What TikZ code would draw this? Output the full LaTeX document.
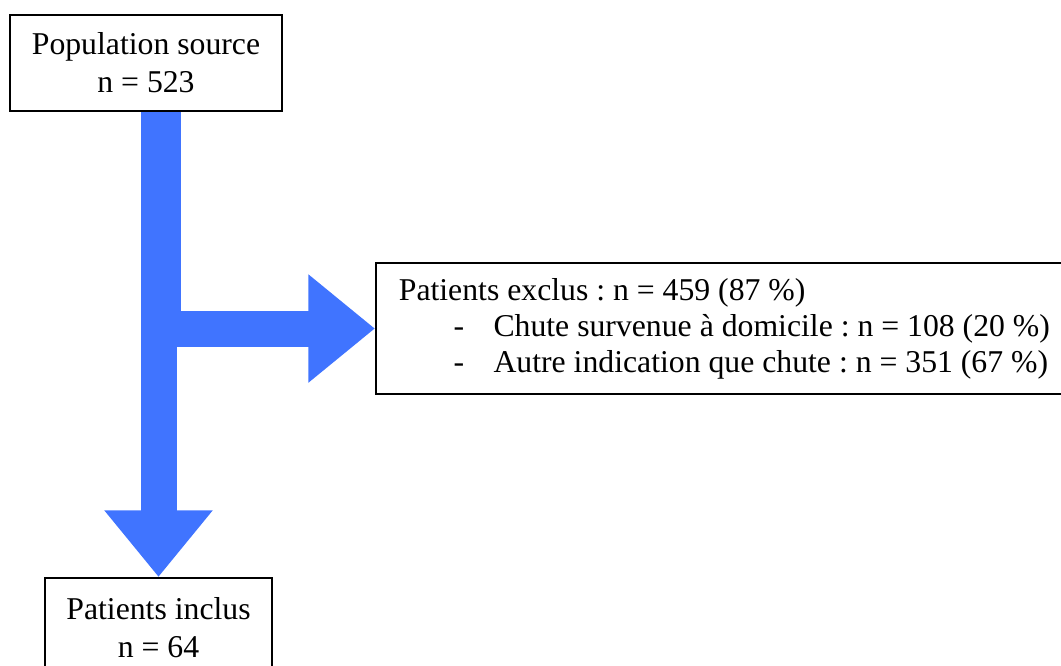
\documentclass[tikz,border=0pt]{standalone}
\usepackage{fontspec}
\setmainfont{Liberation Serif}
\usepackage{xcolor}
\usetikzlibrary{arrows.meta,positioning,calc,backgrounds}
\definecolor{flowblue}{RGB}{64,116,255}
\frenchspacing

\begin{document}
\begin{tikzpicture}[x=0.75pt,y=-0.75pt,
  font=\fontsize{23.8}{28.5}\selectfont,
  box/.style={draw=black,line width=1.8pt,fill=white,align=center,inner sep=0pt},
  flow/.style={draw=flowblue,line width=27pt,-{Triangle[width=78pt,length=50pt]}}]
\useasboundingbox (0,0) rectangle (1061,665);
% --- boxes ---
\node[box,minimum width=204pt,minimum height=72pt] (src) at (146,63) {Population source\\n = 523};
\node[box,minimum width=170pt,minimum height=73.5pt,anchor=north] (incl) at (158.5,577) {Patients inclus\\n = 64};
\node[box,anchor=north west,align=left,inner xsep=17pt,text width=620pt,minimum height=98pt,
  font=\fontsize{23.8}{27}\selectfont] (excl) at (375,262)
  {\spaceskip=5.95pt\relax
   Patients exclus : n = 459 (87 \%)\\
   \makebox[71pt][l]{\hspace*{41pt}-}Chute survenue à domicile : n = 108 (20 \%)\\
   \makebox[71pt][l]{\hspace*{41pt}-}Autre indication que chute : n = 351 (67 \%)};
% --- block arrows ---
\coordinate (corner) at ($(excl.west -| src.south)+(17,0)$);
\begin{scope}[on background layer]
  \draw[flow] (src.south -| incl.north) -- (incl.north);
  \draw[flow] (corner |- src.south) -- (corner) -- (excl.west);
\end{scope}
\end{tikzpicture}
\end{document}
